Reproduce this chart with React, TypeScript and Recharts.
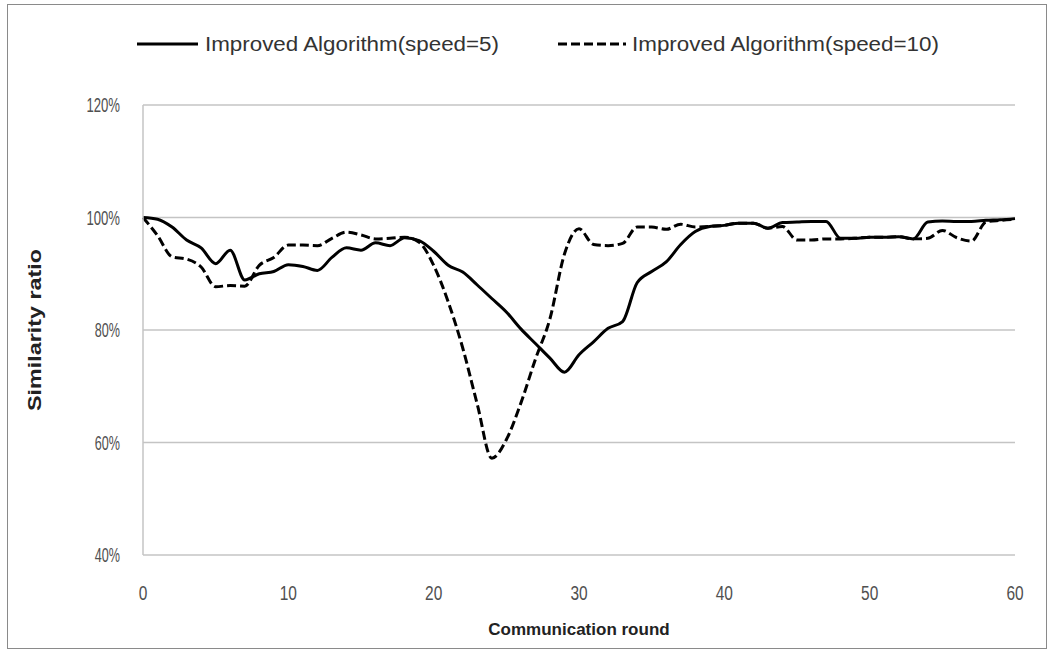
import React from 'react';
import { LineChart, Line, XAxis, YAxis, CartesianGrid, Label } from 'recharts';

// communication rounds on the x axis
const rounds = [
    0, 1, 2, 3, 4, 5, 6, 7, 8, 9, 10, 11, 12, 13, 14, 15, 16, 17, 18, 19, 20,
    21, 22, 23, 24, 25, 26, 27, 28, 29, 30, 31, 32, 33, 34, 35, 36, 37, 38, 39, 40,
    41, 42, 43, 44, 45, 46, 47, 48, 49, 50, 51, 52, 53, 54, 55, 56, 57, 58, 59, 60,
];

// similarity ratio (%), speed=5
const speed5 = [
    100, 99.7, 98.3, 96.0, 94.6, 91.8, 94.2, 88.9, 90.0, 90.4, 91.6,
    91.3, 90.6, 92.9, 94.6, 94.2, 95.5, 95.0, 96.4, 95.9, 94.0,
    91.5, 90.3, 88.0, 85.6, 83.2, 80.2, 77.6, 75.0, 72.5, 75.6,
    77.9, 80.3, 81.5, 88.4, 90.4, 92.1, 95.2, 97.5, 98.4, 98.6,
    99.0, 99.0, 98.1, 99.1, 99.2, 99.3, 99.3, 96.3, 96.3, 96.5,
    96.5, 96.6, 96.2, 99.2, 99.4, 99.3, 99.3, 99.5, 99.6, 99.8,
];

// similarity ratio (%), speed=10
const speed10 = [
    100, 96.8, 93.0, 92.6, 91.2, 87.7, 87.9, 87.8, 91.5, 92.9, 95.1,
    95.1, 95.0, 96.3, 97.4, 96.9, 96.2, 96.3, 96.5, 95.6, 91.5,
    85.0, 76.8, 66.8, 57.2, 60.5, 67.0, 74.8, 82.0, 93.5, 98.0,
    95.2, 95.0, 95.4, 98.3, 98.3, 97.9, 98.8, 98.3, 98.4, 98.6,
    99.0, 99.0, 98.1, 98.4, 96.0, 96.0, 96.2, 96.2, 96.3, 96.5,
    96.5, 96.6, 96.2, 96.3, 97.7, 96.4, 95.8, 99.2, 99.5, 99.7,
];

const xTicks = [0, 10, 20, 30, 40, 50, 60];
const yTicks = [40, 60, 80, 100, 120];

const seriesNames = ['Improved Algorithm(speed=5)', 'Improved Algorithm(speed=10)'];

const data = rounds.map((r, i) => ({ round: r, s5: speed5[i], s10: speed10[i] }));

const font = 'Liberation Sans, Arial, sans-serif';

// tall, narrow tick numerals
const YTick = (props: any) => {
    const { x, y, payload } = props;
    const label = `${payload.value}%`;
    return (
        <text x={x} y={y} dy="0.36em" textAnchor="end" fontFamily={font} fontSize={20} fill="#505050"
            textLength={label.length * 8.4} lengthAdjust="spacingAndGlyphs">
            {label}
        </text>
    );
};

const XTick = (props: any) => {
    const { x, y, payload } = props;
    const label = `${payload.value}`;
    return (
        <text x={x} y={y} dy="0.71em" textAnchor="middle" fontFamily={font} fontSize={20} fill="#505050"
            textLength={label.length * 8.6} lengthAdjust="spacingAndGlyphs">
            {label}
        </text>
    );
};

const YTitle = (props: any) => {
    const { x, y, height } = props.viewBox;
    const cx = x + 35;
    const cy = y + height / 2;
    return (
        <text x={cx} y={cy} transform={`rotate(-90 ${cx} ${cy})`} textAnchor="middle" dominantBaseline="central"
            fontFamily={font} fontSize={18} fontWeight="bold" fill="#222"
            textLength={162} lengthAdjust="spacingAndGlyphs">
            Similarity ratio
        </text>
    );
};

const ChartLegend = () => (
    <svg width={1051} height={80} style={{ position: 'absolute', left: 0, top: 0 }}>
        <line x1={137} x2={198} y1={44} y2={44} stroke="#000" strokeWidth={3} />
        <text x={205} y={51} fontFamily={font} fontSize={20} fill="#333"
            textLength={294} lengthAdjust="spacingAndGlyphs">{seriesNames[0]}</text>
        <line x1={558} x2={626} y1={44} y2={44} stroke="#000" strokeWidth={3} strokeDasharray="9 4" />
        <text x={632} y={51} fontFamily={font} fontSize={20} fill="#333"
            textLength={307} lengthAdjust="spacingAndGlyphs">{seriesNames[1]}</text>
    </svg>
);

export default function App() {
    return (
        <div style={{ position: 'fixed', left: 0, top: 0, width: 1051, height: 652, background: '#fff' }}>
            <div style={{
                position: 'absolute', left: 7, top: 4, width: 1040, height: 645,
                boxSizing: 'border-box', border: '1.5px solid #8a8a8a',
            }} />
            <ChartLegend />
            <div style={{ position: 'absolute', left: 0, top: 0 }}>
                <LineChart width={1051} height={652} data={data}
                    margin={{ top: 105, right: 36, bottom: 7, left: 0 }}>
                    <CartesianGrid vertical={false} stroke="#c4c4c4" strokeWidth={1.5} />
                    <XAxis dataKey="round" type="number" domain={[0, 60]} ticks={xTicks}
                        axisLine={false} tickLine={false} tickMargin={25} height={90}
                        tick={<XTick />}>
                        <Label value="Communication round" position="insideBottom" offset={10}
                            style={{ fontFamily: font, fontSize: 17, fontWeight: 'bold', fill: '#222' }} />
                    </XAxis>
                    <YAxis type="number" domain={[40, 120]} ticks={yTicks} width={143}
                        tickLine={false} tickMargin={17} tick={<YTick />}
                        axisLine={{ stroke: '#c4c4c4', strokeWidth: 1.5 }}>
                        <Label content={YTitle} />
                    </YAxis>
                    <Line type="monotone" dataKey="s10" name={seriesNames[1]} stroke="#000" strokeWidth={3}
                        strokeDasharray="9 4" dot={false} isAnimationActive={false} />
                    <Line type="monotone" dataKey="s5" name={seriesNames[0]} stroke="#000" strokeWidth={3}
                        dot={false} isAnimationActive={false} />
                </LineChart>
            </div>
        </div>
    );
}
